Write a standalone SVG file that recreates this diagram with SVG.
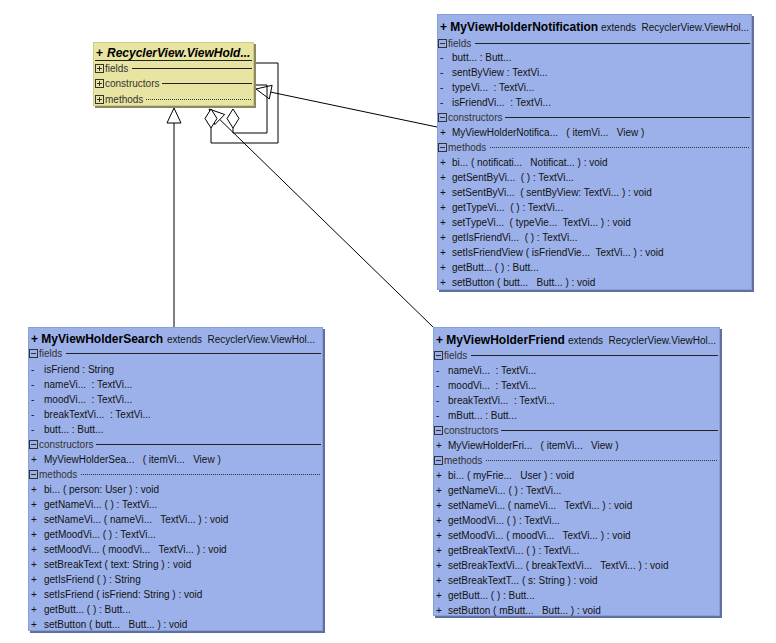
<svg xmlns="http://www.w3.org/2000/svg" xmlns:xlink="http://www.w3.org/1999/xlink" width="776" height="643" viewBox="0 0 776 643">
<style>
text { font-family: "Liberation Sans", Arial, sans-serif; font-size: 10px; fill: #111; white-space: pre; }
.hd { font-size: 12px; font-weight: bold; fill: #000; }
.hi { font-size: 12px; font-weight: bold; font-style: italic; fill: #000; }
.sec { fill: #333; }
.blue { fill: #9cb1ea; stroke: #8a9ed6; stroke-width: 1; }
.yel { fill: #e8e4a2; stroke: #cfca86; stroke-width: 1; }
.shb { fill: #5f6fa2; }
.shy { fill: #8c8a66; }
.sl { stroke: #222; stroke-width: 1; fill: none; }
.dl { stroke: #333; stroke-width: 1; stroke-dasharray: 1 1; fill: none; }
.cn { stroke: #000; stroke-width: 1; fill: none; }
.tri { fill: #fff; stroke: #000; stroke-width: 1; }
</style>
<defs>
<symbol id="minus" viewBox="0 0 9 9" width="9" height="9"><rect x="0.5" y="0.5" width="8" height="8" fill="none" stroke="#333"/><path d="M2 4.5h5" stroke="#333"/></symbol>
<symbol id="plus" viewBox="0 0 9 9" width="9" height="9"><rect x="0.5" y="0.5" width="8" height="8" fill="none" stroke="#333"/><path d="M2 4.5h5M4.5 2v5" stroke="#333"/></symbol>
</defs>
<rect width="776" height="643" fill="#fff"/>

<g id="connectors">
  <line class="cn" x1="174" y1="327" x2="174" y2="123"/>
  <polygon class="tri" points="174,108 181,123 167,123"/>
  <line class="cn" x1="437" y1="127" x2="270.7" y2="92.1"/>
  <polygon class="tri" points="256,89 272.1,85.3 269.3,98.9"/>
  <line class="cn" x1="433" y1="327" x2="219.8" y2="119.5"/>
  <polygon class="tri" points="209,109 224.7,114.5 214.9,124.5"/>
  <path class="cn" d="M211 128V143H278V63H256"/>
  <polygon class="tri" points="211,109 217,118.5 211,128 205,118.5"/>
  <path class="cn" d="M233 128V133H267V85H256"/>
  <polygon class="tri" points="233,109 239,118.5 233,128 227,118.5"/>
</g>

<g id="RecyclerViewViewHolder">
  <rect class="shy" x="95" y="44" width="161" height="64"/>
  <rect class="yel" x="93.5" y="42.5" width="160" height="63"/>
  <text x="96" y="57" class="hd">+</text>
  <text x="107" y="57" class="hi">RecyclerView.ViewHold...</text>
  <line class="sl" x1="95" y1="60.5" x2="252" y2="60.5"/>
  <use xlink:href="#plus" x="95" y="64"/>
  <text x="105" y="72" class="sec">fields</text>
  <line class="sl" x1="132" y1="68.5" x2="252" y2="68.5"/>
  <use xlink:href="#plus" x="95" y="79"/>
  <text x="105" y="87" class="sec">constructors</text>
  <line class="sl" x1="162" y1="83.5" x2="252" y2="83.5"/>
  <use xlink:href="#plus" x="95" y="95"/>
  <text x="105" y="103" class="sec">methods</text>
  <line class="dl" x1="146" y1="99.5" x2="252" y2="99.5"/>
</g>

<g id="MyViewHolderNotification">
  <rect class="shb" x="439" y="16" width="315" height="276"/>
  <rect class="blue" x="437.5" y="14.5" width="314" height="275"/>
  <text x="440" y="31" class="hd">+ MyViewHolderNotification</text>
  <text x="601" y="31">extends  RecyclerView.ViewHol...</text>
  <use xlink:href="#minus" x="438" y="39"/>
  <text x="448" y="47" class="sec">fields</text>
  <line class="sl" x1="475" y1="43.5" x2="750" y2="43.5"/>
  <text x="440" y="61">-</text><text x="452" y="61">butt... : Butt...</text>
  <text x="440" y="76">-</text><text x="452" y="76">sentByView : TextVi...</text>
  <text x="440" y="91">-</text><text x="452" y="91">typeVi...  : TextVi...</text>
  <text x="440" y="106">-</text><text x="452" y="106">isFriendVi...  : TextVi...</text>
  <use xlink:href="#minus" x="438" y="113"/>
  <text x="448" y="121" class="sec">constructors</text>
  <line class="sl" x1="505" y1="117.5" x2="750" y2="117.5"/>
  <text x="440" y="136">+</text><text x="452" y="136">MyViewHolderNotifica...   ( itemVi...   View )</text>
  <use xlink:href="#minus" x="438" y="143"/>
  <text x="448" y="151" class="sec">methods</text>
  <line class="dl" x1="490" y1="147.5" x2="750" y2="147.5"/>
  <text x="440" y="166">+</text><text x="452" y="166">bi... ( notificati...   Notificat... ) : void</text>
  <text x="440" y="181">+</text><text x="452" y="181">getSentByVi...  ( ) : TextVi...</text>
  <text x="440" y="196">+</text><text x="452" y="196">setSentByVi...  ( sentByView: TextVi... ) : void</text>
  <text x="440" y="211">+</text><text x="452" y="211">getTypeVi...  ( ) : TextVi...</text>
  <text x="440" y="226">+</text><text x="452" y="226">setTypeVi...  ( typeVie...  TextVi... ) : void</text>
  <text x="440" y="241">+</text><text x="452" y="241">getIsFriendVi...  ( ) : TextVi...</text>
  <text x="440" y="256">+</text><text x="452" y="256">setIsFriendView ( isFriendVie...  TextVi... ) : void</text>
  <text x="440" y="271">+</text><text x="452" y="271">getButt... ( ) : Butt...</text>
  <text x="440" y="286">+</text><text x="452" y="286">setButton ( butt...   Butt... ) : void</text>
</g>

<g id="MyViewHolderSearch">
  <rect class="shb" x="30" y="329" width="295" height="304"/>
  <rect class="blue" x="28.5" y="327.5" width="294" height="303"/>
  <text x="31" y="343" class="hd">+ MyViewHolderSearch</text>
  <text x="167" y="343">extends  RecyclerView.ViewHol...</text>
  <use xlink:href="#minus" x="29" y="349"/>
  <text x="39" y="357" class="sec">fields</text>
  <line class="sl" x1="66" y1="353.5" x2="321" y2="353.5"/>
  <text x="31" y="373">-</text><text x="44" y="373">isFriend : String</text>
  <text x="31" y="388">-</text><text x="44" y="388">nameVi...  : TextVi...</text>
  <text x="31" y="403">-</text><text x="44" y="403">moodVi...  : TextVi...</text>
  <text x="31" y="418">-</text><text x="44" y="418">breakTextVi...  : TextVi...</text>
  <text x="31" y="433">-</text><text x="44" y="433">butt... : Butt...</text>
  <use xlink:href="#minus" x="29" y="440"/>
  <text x="39" y="448" class="sec">constructors</text>
  <line class="sl" x1="96" y1="444.5" x2="321" y2="444.5"/>
  <text x="31" y="463">+</text><text x="44" y="463">MyViewHolderSea...   ( itemVi...   View )</text>
  <use xlink:href="#minus" x="29" y="470"/>
  <text x="39" y="478" class="sec">methods</text>
  <line class="dl" x1="81" y1="474.5" x2="321" y2="474.5"/>
  <text x="31" y="493">+</text><text x="44" y="493">bi... ( person: User ) : void</text>
  <text x="31" y="508">+</text><text x="44" y="508">getNameVi... ( ) : TextVi...</text>
  <text x="31" y="523">+</text><text x="44" y="523">setNameVi... ( nameVi...   TextVi... ) : void</text>
  <text x="31" y="538">+</text><text x="44" y="538">getMoodVi... ( ) : TextVi...</text>
  <text x="31" y="553">+</text><text x="44" y="553">setMoodVi... ( moodVi...   TextVi... ) : void</text>
  <text x="31" y="568">+</text><text x="44" y="568">setBreakText ( text: String ) : void</text>
  <text x="31" y="583">+</text><text x="44" y="583">getIsFriend ( ) : String</text>
  <text x="31" y="598">+</text><text x="44" y="598">setIsFriend ( isFriend: String ) : void</text>
  <text x="31" y="613">+</text><text x="44" y="613">getButt... ( ) : Butt...</text>
  <text x="31" y="628">+</text><text x="44" y="628">setButton ( butt...   Butt... ) : void</text>
</g>

<g id="MyViewHolderFriend">
  <rect class="shb" x="435" y="329" width="287" height="289"/>
  <rect class="blue" x="433.5" y="327.5" width="286" height="288"/>
  <text x="436" y="344" class="hd">+ MyViewHolderFriend</text>
  <text x="568" y="344">extends  RecyclerView.ViewHol...</text>
  <use xlink:href="#minus" x="434" y="351"/>
  <text x="444" y="359" class="sec">fields</text>
  <line class="sl" x1="471" y1="355.5" x2="718" y2="355.5"/>
  <text x="436" y="374">-</text><text x="448" y="374">nameVi...  : TextVi...</text>
  <text x="436" y="389">-</text><text x="448" y="389">moodVi...  : TextVi...</text>
  <text x="436" y="404">-</text><text x="448" y="404">breakTextVi...  : TextVi...</text>
  <text x="436" y="419">-</text><text x="448" y="419">mButt... : Butt...</text>
  <use xlink:href="#minus" x="434" y="426"/>
  <text x="444" y="434" class="sec">constructors</text>
  <line class="sl" x1="501" y1="430.5" x2="718" y2="430.5"/>
  <text x="436" y="449">+</text><text x="448" y="449">MyViewHolderFri...   ( itemVi...   View )</text>
  <use xlink:href="#minus" x="434" y="456"/>
  <text x="444" y="464" class="sec">methods</text>
  <line class="dl" x1="486" y1="460.5" x2="718" y2="460.5"/>
  <text x="436" y="479">+</text><text x="448" y="479">bi... ( myFrie...   User ) : void</text>
  <text x="436" y="494">+</text><text x="448" y="494">getNameVi... ( ) : TextVi...</text>
  <text x="436" y="509">+</text><text x="448" y="509">setNameVi... ( nameVi...   TextVi... ) : void</text>
  <text x="436" y="524">+</text><text x="448" y="524">getMoodVi... ( ) : TextVi...</text>
  <text x="436" y="539">+</text><text x="448" y="539">setMoodVi... ( moodVi...   TextVi... ) : void</text>
  <text x="436" y="554">+</text><text x="448" y="554">getBreakTextVi... ( ) : TextVi...</text>
  <text x="436" y="569">+</text><text x="448" y="569">setBreakTextVi... ( breakTextVi...   TextVi... ) : void</text>
  <text x="436" y="584">+</text><text x="448" y="584">setBreakTextT... ( s: String ) : void</text>
  <text x="436" y="599">+</text><text x="448" y="599">getButt... ( ) : Butt...</text>
  <text x="436" y="614">+</text><text x="448" y="614">setButton ( mButt...   Butt... ) : void</text>
</g>
</svg>
